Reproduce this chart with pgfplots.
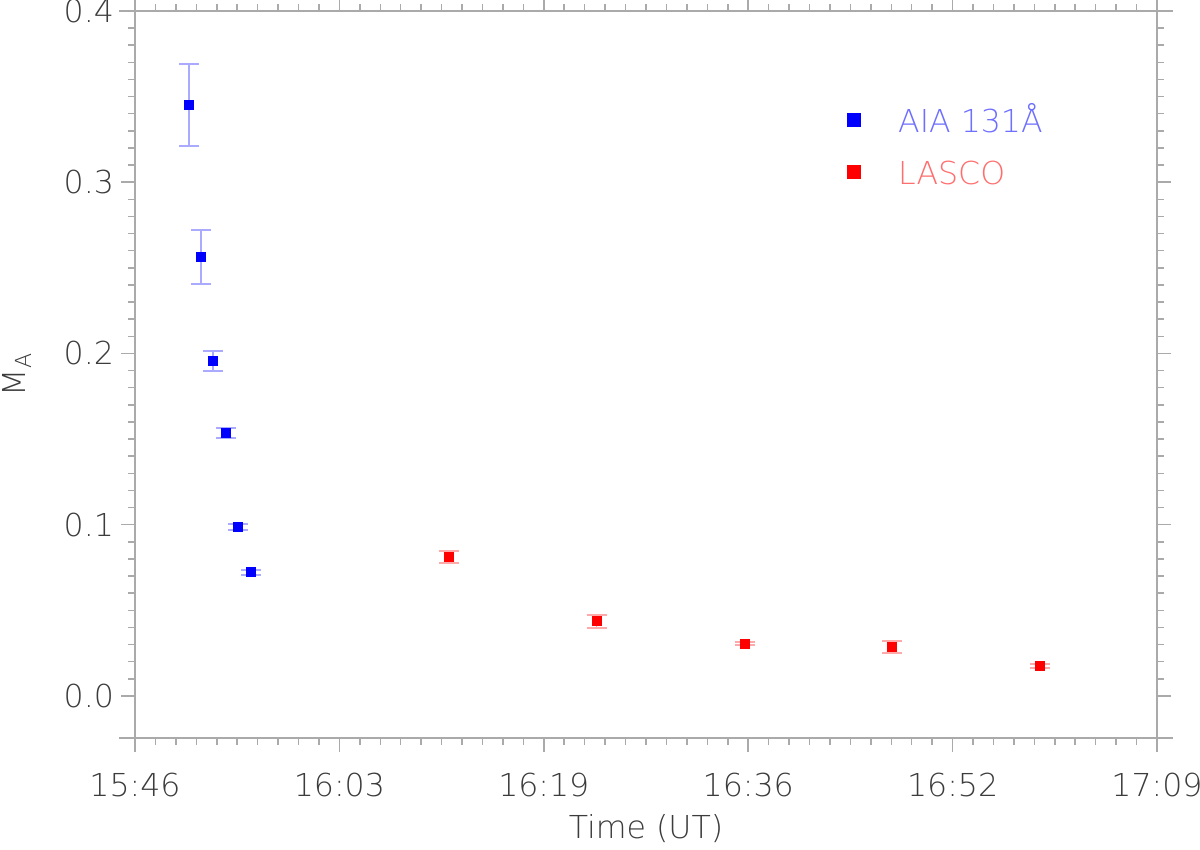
\documentclass[border=0pt]{standalone}
\usepackage{fontspec}
\setmainfont{DejaVu Sans}[UprightFont={* ExtraLight}]
\usepackage{pgfplots}
\pgfplotsset{compat=1.18}
\usetikzlibrary{calc}
\definecolor{axgray}{RGB}{170,170,170}
\definecolor{labgray}{RGB}{60,60,60}
\definecolor{legblue}{RGB}{110,110,255}
\definecolor{legred}{RGB}{255,110,110}
\definecolor{errblue}{RGB}{170,170,255}
\definecolor{errred}{RGB}{255,170,170}

\begin{document}
\begin{tikzpicture}
\begin{axis}[
    name=ax,
    scale only axis,
    width=511pt, height=363.5pt,
    xmin=0, xmax=83,
    ymin=-0.0246, ymax=0.4,
    xtick={0,16.6,33.2,49.8,66.4,83},
    xticklabels={15:46,16:03,16:19,16:36,16:52,17:09},
    ytick={0,0.1,0.2,0.3,0.4},
    yticklabels={0.0,0.1,0.2,0.3,0.4},
    minor x tick num=9,
    minor y tick num=9,
    tick align=outside,
    major tick length=7pt,
    minor tick length=3.5pt,
    axis line style={axgray, line width=0.75pt},
    every tick/.style={axgray, line width=0.75pt},
    tick label style={font=\fontsize{15.8}{18}\selectfont, color=labgray},
    xticklabel style={yshift=-7pt},
    label style={font=\fontsize{15.8}{18}\selectfont, color=labgray},
    xlabel={Time (UT)},
    ylabel={M\textsubscript{A}},
    xlabel style={at={(axis description cs:0.5,-0.1376)}, anchor=base},
    ylabel style={at={(axis description cs:-0.1076,0.5)}, anchor=base},
    legend cell align=left,
    legend style={at={(0.6967,0.8138)}, anchor=west, draw=none, fill=none,
        inner sep=0pt, font=\fontsize{15.8}{18}\selectfont,
        nodes={inner sep=0pt, text height=12pt, text depth=0pt},
        row sep=14pt,
        /tikz/every odd column/.append style={column sep=18.5pt}},
    error bars/y dir=both,
    error bars/y explicit,
    error bars/error mark=|,
]
\addplot[only marks, mark=square*, mark size=2.25pt, blue,
    error bars/error bar style={errblue, line width=0.75pt},
    error bars/error mark options={errblue, line width=1pt, mark size=5pt},
    legend image code/.code={\fill[blue] (0pt,-3.25pt) rectangle (6.5pt,3.25pt);},
] coordinates {
    (4.39,0.3453) += (0,0.0237) -= (0,0.0240)
    (5.36,0.2565) += (0,0.0157) -= (0,0.0160)
    (6.33,0.1956) += (0,0.0057) -= (0,0.0056)
    (7.39,0.1538) += (0,0.0026) -= (0,0.0029)
    (8.37,0.0988) += (0,0.0015) -= (0,0.0017)
    (9.42,0.0722) += (0,0.0013) -= (0,0.0015)
};
\addlegendentry{\textcolor{legblue}{AIA 131Å}}
\addplot[only marks, mark=square*, mark size=2.25pt, red,
    error bars/error bar style={errred, line width=0.75pt},
    error bars/error mark options={errred, line width=1pt, mark size=5pt},
    legend image code/.code={\fill[red] (0pt,-3.25pt) rectangle (6.5pt,3.25pt);},
] coordinates {
    (25.5,0.0811) += (0,0.0035) -= (0,0.0037)
    (37.5,0.0437) += (0,0.0033) -= (0,0.0038)
    (49.5,0.0304) += (0,0.0009) -= (0,0.0009)
    (61.5,0.0285) += (0,0.0035) -= (0,0.0035)
    (73.5,0.0175) += (0,0.0010) -= (0,0.0010)
};
\addlegendentry{\textcolor{legred}{LASCO}}
\end{axis}
% axis lines run past the corners, as in the original
\draw[axgray, line width=0.75pt] ($(ax.north west)+(-8pt,0)$) -- ($(ax.north east)+(8pt,0)$);
\draw[axgray, line width=0.75pt] ($(ax.south west)+(-8pt,0)$) -- ($(ax.south east)+(8pt,0)$);
\draw[axgray, line width=0.75pt] ($(ax.south west)+(0,-5.5pt)$) -- ($(ax.north west)+(0,5.5pt)$);
\draw[axgray, line width=0.75pt] ($(ax.south east)+(0,-5.5pt)$) -- ($(ax.north east)+(0,5.5pt)$);
\pgfresetboundingbox
\path ($(ax.south west)+(-67.5pt,-56pt)$) rectangle ($(ax.north east)+(21.5pt,5.5pt)$);
\end{tikzpicture}
\end{document}
